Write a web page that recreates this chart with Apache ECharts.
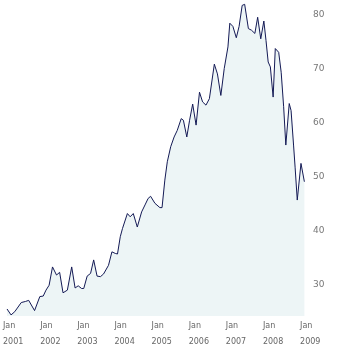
<!DOCTYPE html>
<html>
<head>
<meta charset="utf-8">
<script src="https://cdn.jsdelivr.net/npm/echarts@6/dist/echarts.min.js"></script>
<style>html,body{margin:0;padding:0;background:#fff}#c{width:350px;height:350px}</style>
</head>
<body>
<div id="c"></div>
<script>
// months since Jan 2001
var monthOffsets = [1.3,2.6,3.8,5.9,7.3,8.3,10.2,11.9,13.0,13.9,14.9,16.0,17.3,18.3,19.4,20.8,22.2,23.3,24.3,25.4,26.1,27.2,28.3,29.3,30.4,31.5,32.5,34.1,35.2,36.3,37.0,37.9,38.6,39.1,40.2,41.1,42.1,43.4,44.8,45.9,46.9,47.7,49.1,50.7,51.4,52.3,53.1,54.2,55.3,56.3,57.6,58.3,59.4,60.3,61.3,62.4,63.5,64.5,65.6,66.7,68.3,69.3,70.4,71.5,72.7,73.3,74.3,75.4,76.3,77.3,78.1,79.3,80.3,81.4,82.3,83.3,84.3,85.0,85.7,86.4,87.3,88.0,89.1,89.9,90.7,91.4,92.5,93.1,93.9,94.4,95.1,96.3,97.4];
var prices = [25.5,24.4,25.0,26.7,26.9,27.1,25.2,27.8,27.9,29.0,29.9,33.3,31.8,32.3,28.5,29.0,33.3,29.4,29.8,29.3,29.3,31.6,32.1,34.6,31.6,31.5,32.0,33.6,36.1,35.8,35.7,38.9,40.4,40.7,43.2,42.6,43.2,40.7,43.5,44.8,46.0,46.4,45.1,44.3,44.3,49.4,52.8,55.6,57.4,58.6,60.8,60.5,57.4,60.5,63.5,59.6,65.7,63.9,63.3,64.5,70.9,69.1,65.1,70.1,74.1,78.5,77.9,75.8,77.9,81.8,82.0,77.5,77.2,76.6,79.6,75.6,78.9,75.3,71.3,70.4,64.8,73.8,73.1,69.4,63.0,55.9,63.6,62.3,55.9,51.8,45.7,52.5,49.1];
var xTickMonths = [0,12,24,36,48,60,72,84,96];
var startYear = 2001;
var yTicks = [30,40,50,60,70,80];

var data = monthOffsets.map(function(m,i){return [m, prices[i]];});
var chart = echarts.init(document.getElementById('c'));
chart.setOption({
  animation:false,
  grid:{left:0, top:0, width:305, height:316},
  xAxis:{
    type:'value', min:0, max:97.6,
    axisLine:{show:false}, axisTick:{show:false}, splitLine:{show:false},
    axisLabel:{
      customValues:xTickMonths, align:'left', margin:2,
      fontFamily:'DejaVu Sans', fontSize:8, lineHeight:16, color:'#666',
      formatter:function(v){return 'Jan\n'+(startYear+Math.round(v/12));}
    }
  },
  yAxis:{
    type:'value', position:'right', min:24.2, max:82.8,
    axisLine:{show:false}, axisTick:{show:false}, splitLine:{show:false},
    axisLabel:{customValues:yTicks, margin:8, fontFamily:'DejaVu Sans', fontSize:9, color:'#777'}
  },
  series:[{
    type:'line', data:data, symbol:'none',
    lineStyle:{color:'#141a55', width:1},
    areaStyle:{color:'#edf5f6', opacity:1, origin:'start'}
  }]
});
</script>
</body>
</html>
